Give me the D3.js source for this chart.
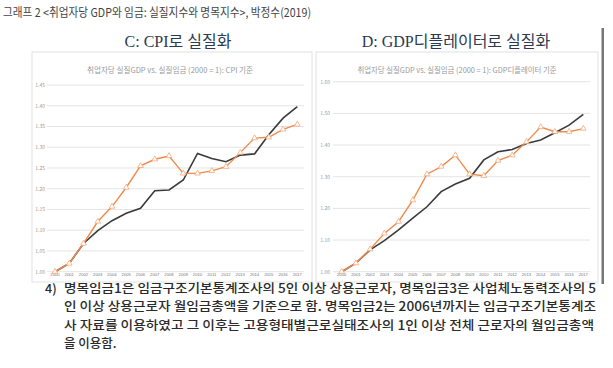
<!DOCTYPE html>
<html><head><meta charset="utf-8">
<script src="https://cdn.jsdelivr.net/npm/d3@7"></script>
<style>body{margin:0;background:#fff}svg{display:block}</style>
</head><body>
<script>
const years = d3.range(2000, 2018);
// C: CPI-deflated
const cpiGdp  = [1.000,1.020,1.068,1.099,1.123,1.141,1.153,1.195,1.197,1.221,1.285,1.273,1.265,1.281,1.284,1.330,1.370,1.398];
const cpiWage = [1.000,1.020,1.068,1.121,1.157,1.203,1.255,1.271,1.279,1.237,1.237,1.243,1.253,1.287,1.322,1.324,1.343,1.355];
// D: GDP-deflator-deflated
const defGdp  = [1.000,1.027,1.069,1.098,1.132,1.169,1.205,1.253,1.277,1.295,1.353,1.379,1.386,1.405,1.416,1.439,1.463,1.497];
const defWage = [1.000,1.027,1.071,1.121,1.158,1.226,1.308,1.332,1.368,1.308,1.303,1.351,1.368,1.410,1.457,1.442,1.442,1.452];
const cpiTicks = [1.00,1.05,1.10,1.15,1.20,1.25,1.30,1.35,1.40,1.45];
const defTicks = [1.00,1.10,1.20,1.30,1.40,1.50,1.60];

const W=613,H=368;
const svg=d3.select("body").append("svg").attr("width",W).attr("height",H);
const sans='"Noto Sans CJK KR","Noto Sans",sans-serif';
const serif='"Liberation Serif","Noto Sans CJK KR",serif';

svg.append("text").attr("x",3).attr("y",17).attr("font-family",sans).attr("font-size",12)
  .attr("fill","#444").attr("textLength",308).attr("lengthAdjust","spacingAndGlyphs")
  .text("그래프 2 <취업자당 GDP와 임금: 실질지수와 명목지수>, 박정수(2019)");

// right scan edge
svg.append("rect").attr("x",601.5).attr("y",28).attr("width",2.5).attr("height",256).attr("fill","#777");

const defs=svg.append("defs");

function panel(cfg){
  const g=svg.append("g");
  g.append("rect").attr("x",cfg.px).attr("y",52).attr("width",cfg.pw).attr("height",230)
    .attr("fill","#fff").attr("stroke","#e2e2e2").attr("stroke-width",1);
  svg.append("text").attr("x",cfg.hx).attr("y",47).attr("text-anchor","middle")
    .attr("font-family",serif).attr("font-size",16).attr("fill","#2c3a52").text(cfg.head);
  g.append("text").attr("x",cfg.tx).attr("y",73).attr("text-anchor","middle")
    .attr("font-family",sans).attr("font-size",7.5).attr("fill","#999")
    .attr("textLength",cfg.tl).attr("lengthAdjust","spacingAndGlyphs").text(cfg.title);
  const x=d3.scaleLinear().domain([2000,2017]).range([cfg.x0,cfg.x1]);
  const y=d3.scaleLinear().domain(cfg.dom).range([271.7,cfg.ytop]);
  g.selectAll(".grid").data(cfg.ticks).join("line")
    .attr("x1",cfg.g0).attr("x2",cfg.g1).attr("y1",d=>y(d)).attr("y2",d=>y(d))
    .attr("stroke","#e4e4e4").attr("stroke-width",1);
  g.selectAll(".tl").data(cfg.ticks).join("text")
    .attr("x",cfg.lx).attr("y",d=>y(d)+2).attr("text-anchor","end")
    .attr("font-family",sans).attr("font-size",5).attr("fill","#999")
    .text(d=>d.toFixed(2));
  // year labels, cut off at the bottom of the scan
  const cid="clip"+cfg.px;
  defs.append("clipPath").attr("id",cid).append("rect").attr("x",cfg.px).attr("y",273).attr("width",cfg.pw).attr("height",4.5);
  g.append("g").attr("clip-path",`url(#${cid})`).selectAll("text").data(years).join("text")
    .attr("x",d=>x(d)).attr("y",276.2).attr("text-anchor","middle")
    .attr("font-family",'"Liberation Sans",sans-serif').attr("font-size",4.2).attr("fill","#777").text(d=>d);
  const line=d3.line().x((d,i)=>x(years[i])).y(d=>y(d));
  g.append("path").datum(cfg.gdp).attr("d",line).attr("fill","none").attr("stroke","#3a3a3a").attr("stroke-width",1.6);
  g.append("path").datum(cfg.wage).attr("d",line).attr("fill","none").attr("stroke","#f08a4b").attr("stroke-width",1.4);
  const tri=d3.symbol().type(d3.symbolTriangle).size(14);
  g.selectAll(".m").data(cfg.wage).join("path").attr("d",tri)
    .attr("transform",(d,i)=>`translate(${x(years[i])},${y(d)})`)
    .attr("fill","#fff").attr("stroke","#f5a77a").attr("stroke-width",0.8);
}

panel({px:32,pw:280,hx:178,head:"C: CPI로 실질화",tx:170,tl:166,
  title:"취업자당 실질GDP vs. 실질임금 (2000 = 1): CPI 기준",
  x0:55,x1:297.3,dom:[1.00,1.45],ytop:85,ticks:cpiTicks,g0:47,g1:304,lx:45,gdp:cpiGdp,wage:cpiWage});
panel({px:316,pw:282,hx:456,head:"D: GDP디플레이터로 실질화",tx:457,tl:199,
  title:"취업자당 실질GDP vs. 실질임금 (2000 = 1): GDP디플레이터 기준",
  x0:341.7,x1:583.3,dom:[1.00,1.60],ytop:81.7,ticks:defTicks,g0:333,g1:590,lx:330,gdp:defGdp,wage:defWage});

// footnote
const fn=svg.append("g").attr("font-family",sans).attr("font-size",12.5).attr("font-weight",500).attr("fill","#2a2a2a");
fn.append("text").attr("x",45).attr("y",292.5).text("4)");
const lines=[
 ["명목임금1은 임금구조기본통계조사의 5인 이상 상용근로자, 명목임금3은 사업체노동력조사의 5",292.5,532],
 ["인 이상 상용근로자 월임금총액을 기준으로 함. 명목임금2는 2006년까지는 임금구조기본통계조",311,532],
 ["사 자료를 이용하였고 그 이후는 고용형태별근로실태조사의 1인 이상 전체 근로자의 월임금총액",329.5,530],
 ["을 이용함.",348,null]];
lines.forEach(([t,yy,len])=>{
  const e=fn.append("text").attr("x",64).attr("y",yy).text(t);
  if(len) e.attr("textLength",len).attr("lengthAdjust","spacingAndGlyphs");
});
</script>
</body></html>
